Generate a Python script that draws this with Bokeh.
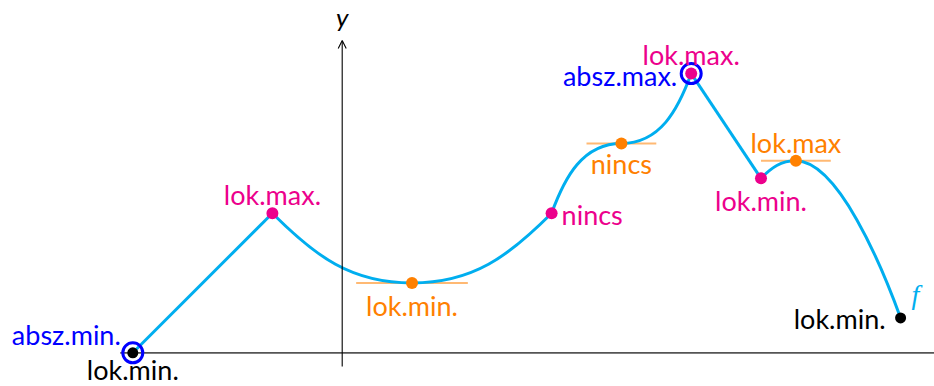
from bokeh.plotting import figure
from bokeh.models import Range1d, Arrow, OpenHead, ColumnDataSource
from bokeh.core.properties import value
from bokeh.embed import file_html
from bokeh.resources import INLINE

# ---------------- data ----------------
# key points of f
pt_x = [-3, -1, 1, 3, 4, 5, 6, 6.5, 8]
pt_y = [0, 2, 1, 2, 3, 4, 2.5, 2.75, 0.5]
pt_kind = ["end", "corner", "stat", "corner", "stat", "corner", "corner", "stat", "end"]

# straight pieces of f (point index pairs)
line_from = [0, 5]
line_to = [1, 6]

# smooth pieces of f (cubic Bezier: start, end, two control points)
bz_x0 = [-1, 1, 3, 4, 6, 6.5]
bz_y0 = [2, 1, 2, 3, 2.5, 2.75]
bz_x1 = [1, 3, 4, 5, 6.5, 8]
bz_y1 = [1, 2, 3, 4, 2.75, 0.5]
bz_cx0 = [-0.381, 1.875, 3.19, 4.554, 6.155, 7.1]
bz_cy0 = [1.381, 1.0, 2.52, 3.0, 2.655, 2.75]
bz_cx1 = [0.125, 2.381, 3.446, 4.811, 6.281, 7.726]
bz_cy1 = [1.0, 1.381, 3.0, 3.48, 2.75, 1.252]

# horizontal tangents at stationary points
tan_pt = [2, 4, 7]
tan_half = [0.8, 0.5, 0.5]

# absolute extrema (circled)
abs_pt = [0, 5]

# labels
lbl_pt = [0, 0, 1, 2, 3, 4, 5, 5, 6, 7, 8]
lbl_text = ["absz.min.", "lok.min.", "lok.max.", "lok.min.", "nincs", "nincs",
            "absz.max.", "lok.max.", "lok.min.", "lok.max", "lok.min."]
lbl_role = ["abs", "end", "corner", "stat", "corner", "stat",
            "abs", "corner", "corner", "stat", "end"]

# axis extents
x_axis_from, x_axis_to = -3.18, 8.6
y_axis_from, y_axis_to = -0.196, 4.474

# ---------------- styling ----------------
CYAN = "#00AEEF"
MAGENTA = "#EC008C"
ORANGE = "#FF8000"
BLUE = "#0000FF"
BLACK = "#000000"
kind_color = {"end": BLACK, "corner": MAGENTA, "stat": ORANGE, "abs": BLUE}
kind_size = {"end": 11, "corner": 12, "stat": 12}
FONT = value("Lato")
FS = "27px"
SHIFT = -9  # baseline correction of the svg text renderer

# label placement: (align, dx px, dy px; +dy is down)
lbl_place = [("right", -12, -9.5), ("center", 0, 25.5), ("center", 0, -9.5),
             ("center", 0, 31), ("left", 10, 10.5), ("center", 0, 29.5),
             ("right", -14, 11), ("center", 0, -9.8), ("center", 0, 31.5),
             ("center", 0, -9.6), ("right", -15, 9.3)]

W, H = 934, 386
scale = 69.8
ox, oy = 341.7, 352.3  # frame pixel position of the origin

p = figure(width=W, height=H, output_backend="svg", toolbar_location=None,
           x_range=Range1d(-ox / scale, (W - ox) / scale),
           y_range=Range1d(-(H - oy) / scale, oy / scale),
           min_border=0, outline_line_color=None)
p.xaxis.visible = False
p.yaxis.visible = False
p.grid.visible = False
p.background_fill_color = "white"
p.border_fill_color = "white"

# axes
p.segment(x0=[x_axis_from], y0=[0], x1=[x_axis_to], y1=[0],
          line_color="#555555", line_width=1.8)
p.add_layout(Arrow(end=OpenHead(size=8, line_width=1.1, line_color=BLACK),
                   x_start=0, y_start=y_axis_from, x_end=0, y_end=y_axis_to,
                   line_width=1.1, line_color=BLACK))
p.text(x=[0], y=[y_axis_to], text=["y"], text_font=FONT, text_font_size="26px",
       text_font_style="italic", text_align="center", text_baseline="alphabetic",
       y_offset=-15 + SHIFT, text_color=BLACK)

# tangents
p.segment(x0=[pt_x[i] - h for i, h in zip(tan_pt, tan_half)],
          y0=[pt_y[i] for i in tan_pt],
          x1=[pt_x[i] + h for i, h in zip(tan_pt, tan_half)],
          y1=[pt_y[i] for i in tan_pt],
          line_color=ORANGE, line_alpha=0.55, line_width=2)

# curve
p.segment(x0=[pt_x[i] for i in line_from], y0=[pt_y[i] for i in line_from],
          x1=[pt_x[i] for i in line_to], y1=[pt_y[i] for i in line_to],
          line_color=CYAN, line_width=3)
p.bezier(x0=bz_x0, y0=bz_y0, x1=bz_x1, y1=bz_y1, cx0=bz_cx0, cy0=bz_cy0,
         cx1=bz_cx1, cy1=bz_cy1, line_color=CYAN, line_width=3)

# points
for kind in ["end", "corner", "stat"]:
    idx = [i for i, k in enumerate(pt_kind) if k == kind]
    p.scatter(x=[pt_x[i] for i in idx], y=[pt_y[i] for i in idx],
              size=kind_size[kind], fill_color=kind_color[kind], line_color=None)
p.scatter(x=[pt_x[i] for i in abs_pt], y=[pt_y[i] for i in abs_pt], size=20,
          fill_color=None, line_color=BLUE, line_width=3)

# labels
for align in ["left", "center", "right"]:
    idx = [j for j, pl in enumerate(lbl_place) if pl[0] == align]
    if not idx:
        continue
    src = ColumnDataSource(dict(
        x=[pt_x[lbl_pt[j]] for j in idx],
        y=[pt_y[lbl_pt[j]] for j in idx],
        text=[lbl_text[j] for j in idx],
        color=[kind_color[lbl_role[j]] for j in idx],
        dx=[lbl_place[j][1] for j in idx],
        dy=[lbl_place[j][2] + SHIFT for j in idx],
    ))
    p.text(x="x", y="y", text="text", source=src, text_color="color",
           x_offset="dx", y_offset="dy", text_font=FONT, text_font_size=FS,
           text_align=align, text_baseline="alphabetic")

# function name
p.text(x=[pt_x[-1]], y=[pt_y[-1]], text=["f"], text_font=value("Liberation Serif"),
       text_font_size="28px", text_font_style="italic", text_color=CYAN,
       text_align="left", text_baseline="alphabetic", x_offset=11, y_offset=-14 + SHIFT)

open("out.html", "w").write(file_html(p, INLINE))
